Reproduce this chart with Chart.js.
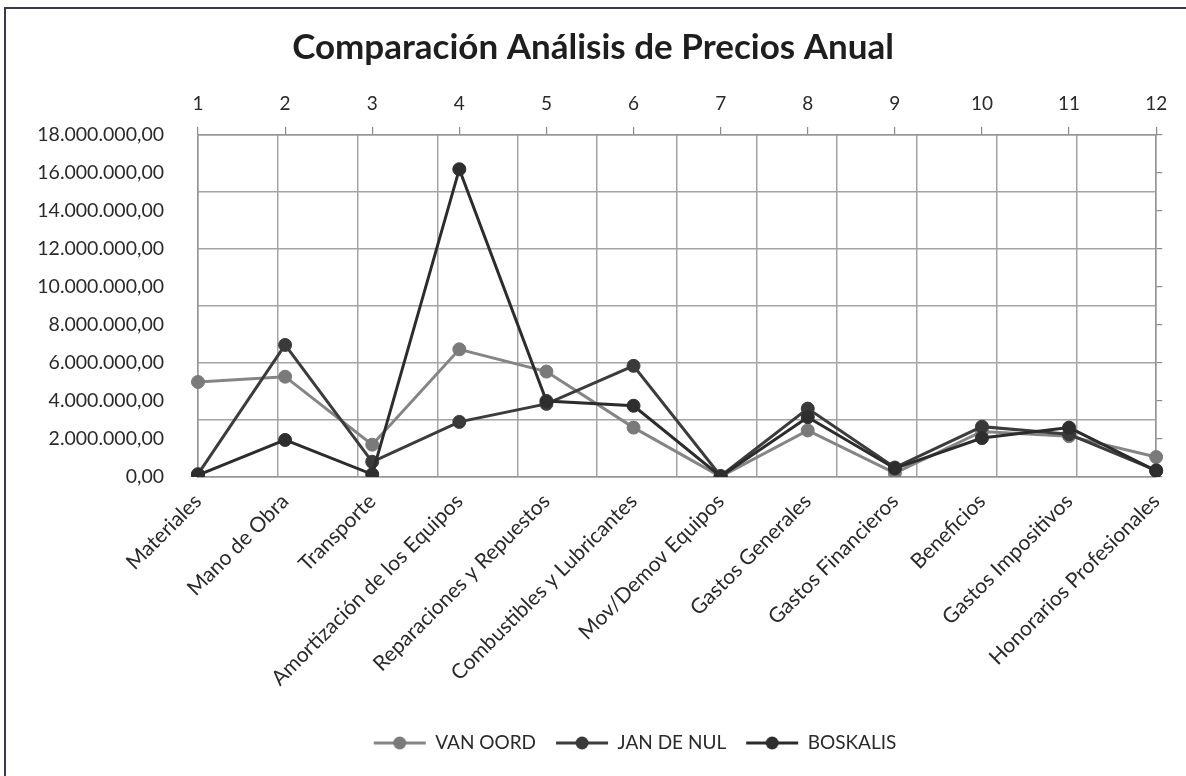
<!DOCTYPE html>
<html>
<head>
<meta charset="utf-8">
<script src="https://cdn.jsdelivr.net/npm/chart.js@4.4.0/dist/chart.umd.min.js"></script>
<style>
  html, body { margin: 0; padding: 0; background: #fff; }
  #frame { position: absolute; left: 4px; top: 7px; width: 1300px; height: 900px; border: 2px solid #3a3a48; }
  #wrap { position: absolute; left: 0; top: 0; width: 1186px; height: 776px; }
</style>
</head>
<body>
<div id="frame"></div>
<div id="wrap"><canvas id="chart" width="1186" height="776"></canvas></div>
<script>
// Data
const categories = [
    'Materiales', 'Mano de Obra', 'Transporte', 'Amortización de los Equipos',
    'Reparaciones y Repuestos', 'Combustibles y Lubricantes', 'Mov/Demov Equipos',
    'Gastos Generales', 'Gastos Financieros', 'Beneficios', 'Gastos Impositivos',
    'Honorarios Profesionales'
];
const topLabels = ['1', '2', '3', '4', '5', '6', '7', '8', '9', '10', '11', '12'];

const vanOord   = [5000000, 5280000, 1700000, 6720000, 5550000, 2600000, 20000, 2450000, 200000, 2400000, 2150000, 1050000];
const janDeNul  = [150000, 6950000, 800000, 2900000, 3850000, 5850000, 50000, 3600000, 500000, 2650000, 2250000, 350000];
const boskalis  = [100000, 1950000, 140000, 16200000, 4000000, 3750000, 30000, 3150000, 450000, 2050000, 2600000, 320000];

const seriesNames = ['VAN OORD', 'JAN DE NUL', 'BOSKALIS'];
const yMax = 18000000;
const yStep = 2000000;
const gridStep = 3000000;

const gridColor = '#a4a4a4';
const axisColor = '#969696';
const textColor = '#2a2a2a';

function fmt(v) {
    const s = Math.round(v).toString().replace(/\B(?=(\d{3})+(?!\d))/g, '.');
    return s + ',00';
}

// little line + dot icon for the legend
function legendMarker(lineColor, fill) {
    const c = document.createElement('canvas');
    c.width = 54;
    c.height = 16;
    const g = c.getContext('2d');
    g.strokeStyle = lineColor;
    g.lineWidth = 3;
    g.beginPath();
    g.moveTo(1, 8);
    g.lineTo(53, 8);
    g.stroke();
    g.fillStyle = fill;
    g.beginPath();
    g.arc(27, 8, 6.5, 0, Math.PI * 2);
    g.fill();
    return c;
}

const colors = [
    { line: '#858585', point: '#7a7a7a' },
    { line: '#3c3c3c', point: '#3a3a3a' },
    { line: '#2c2c2c', point: '#2e2e2e' }
];
const markers = colors.map(c => legendMarker(c.line, c.point));

// the legend sits a bit right of the page centre in the original
const legendShift = {
    id: 'legendShift',
    afterLayout(chart) {
        if (chart.legend) {
            chart.legend.left += 42;
            chart.legend.right += 42;
        }
    }
};

function build() {
    const ctx = document.getElementById('chart').getContext('2d');
    const values = [vanOord, janDeNul, boskalis];

    new Chart(ctx, {
        type: 'line',
        data: {
            labels: categories,
            datasets: values.map((d, i) => ({
                label: seriesNames[i],
                data: d,
                borderColor: colors[i].line,
                backgroundColor: colors[i].point,
                pointBackgroundColor: colors[i].point,
                pointBorderColor: colors[i].point,
                borderWidth: 3,
                pointRadius: 6.5,
                pointBorderWidth: 1,
                tension: 0,
                order: 3 - i
            }))
        },
        options: {
            responsive: false,
            animation: false,
            layout: { padding: { top: 0, left: 0, right: 0, bottom: 13.5 } },
            plugins: {
                tooltip: { enabled: false },
                title: {
                    display: true,
                    text: 'Comparación Análisis de Precios Anual',
                    color: '#1e1e1e',
                    font: { family: 'Lato', size: 35, weight: 'bold' },
                    padding: { top: 27, bottom: 0 }
                },
                legend: {
                    position: 'bottom',
                    labels: {
                        usePointStyle: true,
                        pointStyleWidth: 52,
                        padding: 20,
                        color: textColor,
                        font: { family: 'Lato', size: 19 },
                        generateLabels(chart) {
                            const items = Chart.defaults.plugins.legend.labels.generateLabels(chart);
                            items.sort((a, b) => a.datasetIndex - b.datasetIndex);
                            items.forEach(it => { it.pointStyle = markers[it.datasetIndex]; });
                            return items;
                        }
                    }
                }
            },
            scales: {
                x: {
                    type: 'category',
                    position: 'bottom',
                    offset: false,
                    grid: { drawOnChartArea: false, drawTicks: false },
                    border: { color: axisColor, width: 1.5 },
                    ticks: {
                        autoSkip: false,
                        maxRotation: 45,
                        minRotation: 45,
                        padding: 12,
                        color: textColor,
                        font: { family: 'Lato', size: 21 }
                    },
                    afterFit(s) { s.height = 236.5; }
                },
                x2: {
                    type: 'category',
                    position: 'top',
                    labels: topLabels,
                    offset: false,
                    grid: { drawOnChartArea: false, tickLength: 8, color: '#8a8a8a', lineWidth: 1.2 },
                    border: { color: axisColor, width: 1.5 },
                    ticks: {
                        autoSkip: false,
                        maxRotation: 0,
                        padding: 12,
                        color: textColor,
                        font: { family: 'Lato', size: 19 }
                    },
                    afterFit(s) { s.height = 135 - 69; }
                },
                xg: {
                    type: 'linear',
                    position: 'top',
                    min: 0,
                    max: topLabels.length,
                    ticks: { display: false, stepSize: 1 },
                    grid: { color: gridColor, lineWidth: 1.5, drawTicks: false },
                    border: { display: false },
                    afterFit(s) { s.height = 0; }
                },
                y: {
                    type: 'linear',
                    position: 'left',
                    min: 0,
                    max: yMax,
                    grid: { drawOnChartArea: false, drawTicks: false },
                    border: { color: axisColor, width: 1.5 },
                    ticks: {
                        stepSize: yStep,
                        padding: 34,
                        color: textColor,
                        font: { family: 'Lato', size: 19.5 },
                        callback: v => fmt(v)
                    },
                    afterFit(s) { s.width = 198; }
                },
                y2: {
                    type: 'linear',
                    position: 'right',
                    min: 0,
                    max: yMax,
                    grid: { drawOnChartArea: false, tickLength: 6, color: '#8a8a8a', lineWidth: 1.2 },
                    border: { color: axisColor, width: 1.5 },
                    ticks: { display: false, stepSize: yStep },
                    afterFit(s) { s.width = 29; }
                },
                yg: {
                    type: 'linear',
                    position: 'right',
                    min: 0,
                    max: yMax,
                    ticks: { display: false, stepSize: gridStep },
                    grid: { color: gridColor, lineWidth: 1.5, drawTicks: false },
                    border: { display: false },
                    afterFit(s) { s.width = 0; }
                }
            }
        },
        plugins: [legendShift]
    });
}

Promise.all([
    document.fonts.load('bold 35px Lato'),
    document.fonts.load('19px Lato')
]).then(build, build);
</script>
</body>
</html>
